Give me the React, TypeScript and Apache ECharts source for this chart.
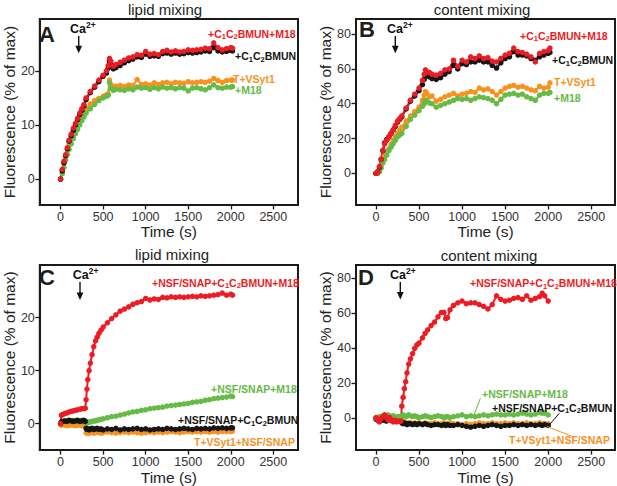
import React, { useEffect, useRef } from "react";
import * as echarts from "echarts";

const FONT = "'Liberation Sans', Arial, Helvetica, sans-serif";
const RED = "#ec1c24";
const BLACK = "#151515";
const ORANGE = "#f7921e";
const GREEN = "#66ba46";

// ---------- tick labels ----------
const timeTicks = [0, 500, 1000, 1500, 2000, 2500];
const lipidTicks = [0, 10, 20];
const contentTicks = [0, 20, 40, 60, 80];

// ---------- Panel A / B times (s) ----------
const timesAB = [0, 20, 40, 60, 80, 100, 125, 150, 175, 200, 225, 250, 275, 300, 350, 400, 450, 500, 540, 560, 575, 590, 620, 650,
  700, 750, 800, 850, 900, 950, 1000, 1050, 1100, 1150, 1200, 1250, 1300, 1350, 1400, 1450, 1500, 1550, 1600, 1650, 1700, 1750, 1800, 1850, 1900, 1950, 2000, 2020];

// Panel A: lipid mixing
const redA = [0, 1.8, 3.3, 4.5, 5.8, 7.2, 8.3, 9.4, 10.3, 11.2, 12.2, 13.0, 13.8, 15.0, 16.2, 17.2, 18.3, 19.2, 20.0, 21.0, 22.3, 21.8, 20.9, 21.2,
  21.6, 22.0, 22.4, 22.6, 23.0, 22.9, 23.6, 23.1, 23.2, 23.0, 23.6, 23.8, 23.5, 23.7, 23.5, 23.6, 23.9, 23.8, 23.9, 24.0, 24.2, 24.1, 25.2, 24.3, 23.9, 24.1, 24.3, 24.2];
const blackA = [0, 1.5, 3.0, 4.3, 5.6, 7.0, 8.0, 9.0, 10.0, 11.0, 11.9, 12.7, 13.5, 14.7, 16.0, 17.0, 18.0, 19.0, 19.6, 20.5, 21.8, 21.2, 20.4, 20.6,
  21.0, 21.5, 21.9, 22.2, 22.6, 22.5, 23.1, 22.7, 22.8, 22.7, 23.2, 23.3, 23.1, 23.3, 23.1, 23.2, 23.4, 23.3, 23.4, 23.5, 23.7, 23.6, 24.3, 23.7, 23.5, 23.6, 23.8, 23.7];
const orangeA = [0, 1.5, 3.0, 4.2, 5.4, 6.5, 7.6, 8.6, 9.5, 10.3, 11.0, 11.8, 12.5, 13.0, 13.9, 14.5, 14.9, 15.3, 15.6, 15.8, 18.3, 17.5, 17.0, 17.2,
  17.3, 17.1, 17.4, 17.3, 18.4, 17.5, 17.6, 17.4, 17.8, 17.5, 17.8, 17.9, 17.6, 17.9, 17.8, 17.7, 18.0, 17.8, 17.9, 18.0, 17.9, 18.1, 18.6, 18.2, 17.9, 18.2, 18.3, 18.3];
const greenA = [0, 1.0, 2.2, 3.5, 4.6, 5.5, 6.5, 7.5, 8.4, 9.2, 10.0, 10.8, 11.5, 12.2, 13.0, 13.8, 14.5, 15.0, 15.3, 15.5, 17.8, 16.8, 16.4, 16.6,
  16.5, 16.4, 16.7, 16.5, 17.0, 16.8, 16.9, 16.6, 16.9, 16.7, 17.0, 16.8, 16.9, 16.7, 16.9, 16.8, 16.3, 16.8, 16.9, 16.7, 16.5, 16.9, 17.4, 16.9, 16.8, 17.0, 17.0, 17.1];

// Panel B: content mixing
const redB = [0, 1, 4, 8, 13, 17, 19, 21, 23, 25, 27.5, 30, 31.5, 33, 37.5, 42, 45.5, 49, 53.5, 57, 59.5, 58.5, 58, 57,
  56.5, 57.5, 59.5, 60, 65, 61.5, 65, 64, 67, 66, 67.5, 66, 66.5, 64.5, 64, 66, 68, 69, 72, 70, 69.5, 68.5, 67, 64, 69, 70, 70.5, 72];
const blackB = [0, 1, 3.5, 8, 13, 17.5, 19.5, 21, 23, 25, 27, 29.5, 31, 32.5, 37, 41.5, 44.5, 47.5, 51, 54, 57, 56, 55.5, 54.5,
  54, 55, 57, 58.5, 62, 60, 63, 62.5, 64, 64, 65, 64, 64, 62, 60.5, 63.5, 66, 67, 70, 68, 68, 67.5, 66, 65, 67, 68, 69, 69.5];
const orangeB = [0, 0, 1, 4, 7, 10, 12, 14, 16.5, 19, 21, 23, 25, 26.5, 30, 33, 35.5, 38, 42, 45, 47, 46, 44, 44.5,
  41.5, 42.5, 44, 45, 46, 44.5, 45.5, 46, 47, 46.5, 49, 48, 48.5, 47, 45, 47, 49, 50, 50.5, 49.5, 50, 49, 48, 47.5, 50, 49, 49.5, 52];
const greenB = [0, 0, 1, 3, 6, 8, 10.5, 13, 15, 17, 19, 21, 22, 23, 27, 31, 33.5, 36, 38.5, 40, 42, 41.5, 40.5, 40,
  38, 39, 40, 41, 42, 43, 42.5, 43, 42, 43, 44, 43.5, 43, 42, 40, 42.5, 45, 45.5, 46, 45, 45.5, 44, 43, 42, 45, 46, 46, 46.5];

// ---------- Panel C: lipid mixing with NSF/SNAP ----------
const timesC = [0, 10, 25, 50, 75, 100, 125, 150, 175, 200, 225, 250, 275, 290,
  300, 310, 320, 335, 350, 370, 390, 410, 430, 450, 475, 500,
  550, 600, 650, 700, 750, 800, 850, 900, 950, 1000, 1050, 1100, 1150, 1200, 1250, 1300, 1350, 1400, 1450, 1500,
  1550, 1600, 1650, 1700, 1750, 1800, 1850, 1900, 1950, 2000, 2020];
const redC = [0, 1.6, 1.7, 1.9, 2.0, 2.2, 2.3, 2.4, 2.5, 2.6, 2.7, 2.8, 2.8, 2.9,
  4.5, 6.5, 8.3, 10.0, 11.4, 13.0, 14.5, 15.6, 16.3, 17.0, 17.6, 18.2,
  19.0, 19.8, 20.5, 21.2, 21.6, 22.0, 22.5, 22.8, 23.0, 23.6, 23.3, 23.5, 23.4, 23.8, 23.7, 23.9, 23.8, 23.9, 23.8, 23.9,
  24.0, 23.9, 24.1, 24.0, 24.1, 24.2, 24.3, 24.6, 24.2, 24.4, 24.2];
const greenC = [0, 0.2, 0.3, 0.5, 0.5, 0.6, 0.5, 0.6, 0.5, 0.6, 0.5, 0.6, 0.5, 0.5,
  0.0, 0.1, 0.2, 0.3, 0.3, 0.4, 0.5, 0.5, 0.6, 0.7, 0.8, 0.9,
  1.1, 1.3, 1.4, 1.6, 1.8, 2.0, 2.2, 2.3, 2.5, 2.6, 2.8, 2.9, 3.0, 3.1, 3.3, 3.4, 3.5, 3.6, 3.7, 3.8,
  4.0, 4.1, 4.2, 4.4, 4.5, 4.7, 4.8, 4.9, 5.0, 5.2, 5.1];
const blackC = [0, 0.3, 0.4, 0.5, 0.4, 0.6, 0.5, 0.4, 0.5, 0.6, 0.4, 0.5, 0.6, 0.4,
  -0.9, -1.1, -1.0, -1.2, -1.0, -0.9, -1.1, -1.0, -0.9, -1.1, -1.0, -1.2,
  -1.0, -1.1, -0.9, -1.2, -1.0, -1.1, -1.0, -0.9, -1.1, -1.0, -1.2, -1.1, -1.0, -1.1, -0.9, -1.0, -1.1, -1.0, -0.9, -1.0,
  -1.1, -0.9, -1.0, -0.9, -1.0, -0.8, -0.9, -0.8, -0.9, -0.8, -0.8];
const orangeC = [0, -0.3, -0.2, -0.3, -0.4, -0.3, -0.2, -0.3, -0.4, -0.3, -0.2, -0.4, -0.3, -0.4,
  -1.7, -1.8, -1.7, -1.8, -1.7, -1.6, -1.8, -1.7, -1.6, -1.7, -1.8, -1.7,
  -1.6, -1.7, -1.8, -1.7, -1.6, -1.7, -1.6, -1.7, -1.8, -1.7, -1.6, -1.7, -1.6, -1.7, -1.6, -1.5, -1.6, -1.7, -1.6, -1.5,
  -1.6, -1.5, -1.6, -1.5, -1.6, -1.5, -1.6, -1.5, -1.5, -1.5, -1.4];

// ---------- Panel D: content mixing with NSF/SNAP ----------
const timesD = [0, 20, 40, 60, 80, 100, 120, 140, 160, 180, 200, 220, 240, 260, 280, 290,
  300, 315, 330, 345, 360, 380, 400, 425, 450, 475, 500,
  540, 570, 600, 640, 680, 720, 760, 790, 810, 830, 860, 900,
  950, 1000, 1050, 1100, 1150, 1200, 1250, 1300, 1350, 1400, 1450, 1500, 1550, 1600, 1650, 1700, 1750, 1800, 1850, 1900,
  1930, 1960, 2000];
const redD = [0.5, -1, -2, 0, 1, 2, 1, -1, 0.5, -1, -2, -1, -2, -1.5, -1.5, -1.5,
  7, 12, 17, 21, 26, 31, 34, 37, 40, 42, 43,
  46, 48.5, 50.5, 53, 55, 58, 60.5, 60.5, 57, 57.5, 62, 64.5,
  66, 67, 65.5, 66, 66, 65, 64, 62.5, 65, 70, 68, 67, 67.5, 68.5, 69, 68, 70, 67.5, 68.5, 69.5,
  71.5, 70, 67];
const greenD = [0, 0.5, 1, 1, 1.5, 1, 1.5, 2, 1.5, 1, 1.5, 1, 0.5, 1, 1, 1,
  1.5, 2, 1.5, 1, 1.5, 2, 1.5, 1, 1.5, 1, 0.5,
  1, 1.5, 1, 0.5, 1, 1.5, 1, 0.5, 0.8, 1, 0.5, 1,
  1.5, 2, 1, 1.5, 1, 1.5, 2, 1.5, 2, 2.5, 2, 2, 2.5, 2, 2.5, 3, 2.5, 2, 2.5, 3.5,
  3, 3, 2];
const blackD = [-0.5, -1, -0.5, -1, -1, -0.5, -1.5, -1, -0.5, -1, -1.5, -1, -0.5, -1, -1, -1.5,
  -2.5, -3, -2.5, -3, -3.5, -3, -3, -3.5, -3, -3.5, -3,
  -3.5, -3, -3.5, -4, -3.5, -3.5, -4, -3.5, -4, -3.5, -4, -4,
  -3.5, -4, -4.5, -5, -4.5, -4, -4.5, -4, -3.5, -4, -4.5, -4, -4, -3.5, -4, -3.5, -4, -3.5, -4, -3.5,
  -4, -3.5, -4];
const orangeD = [0, -0.5, 0, 0.5, 0, -0.5, 0, 0.5, 0, -0.5, 0, 0.5, 0, -0.5, 0, -0.5,
  -2, -2.5, -2, -2.5, -3, -2.5, -2.5, -3, -2.5, -3, -2.5,
  -3, -2.5, -3, -3, -2.5, -3, -3, -2.5, -3, -3, -2.5, -3,
  -3, -3.5, -3, -3.5, -3, -2.5, -3, -3, -2.5, -3, -3, -2.5, -3, -2.5, -3, -3, -2.5, -3, -3, -2.5,
  -3, -3, -3];

const pairs = (t: number[], v: number[]) => t.map((x, i) => [x, v[i]]);

type Panel = {
  grid: { left: number; top: number; width: number; height: number };
  xMin: number; xMax: number; yMin: number; yMax: number;
  yTicks: number[];
  series: { color: string; data: number[][] }[];
};

const panels: Panel[] = [
  {
    grid: { left: 37, top: 19, width: 261, height: 186 },
    xMin: -244, xMax: 2790, yMin: -4.8, yMax: 29.6, yTicks: lipidTicks,
    series: [
      { color: ORANGE, data: pairs(timesAB, orangeA) },
      { color: GREEN, data: pairs(timesAB, greenA) },
      { color: BLACK, data: pairs(timesAB, blackA) },
      { color: RED, data: pairs(timesAB, redA) },
    ],
  },
  {
    grid: { left: 356, top: 19, width: 259, height: 186 },
    xMin: -232, xMax: 2776, yMin: -18.2, yMax: 88.7, yTicks: contentTicks,
    series: [
      { color: ORANGE, data: pairs(timesAB, orangeB) },
      { color: GREEN, data: pairs(timesAB, greenB) },
      { color: BLACK, data: pairs(timesAB, blackB) },
      { color: RED, data: pairs(timesAB, redB) },
    ],
  },
  {
    grid: { left: 37, top: 265, width: 261, height: 186 },
    xMin: -244, xMax: 2790, yMin: -5.0, yMax: 29.9, yTicks: lipidTicks,
    series: [
      { color: ORANGE, data: pairs(timesC, orangeC) },
      { color: GREEN, data: pairs(timesC, greenC) },
      { color: BLACK, data: pairs(timesC, blackC) },
      { color: RED, data: pairs(timesC, redC) },
    ],
  },
  {
    grid: { left: 356, top: 265, width: 259, height: 186 },
    xMin: -232, xMax: 2776, yMin: -18.1, yMax: 87.6, yTicks: contentTicks,
    series: [
      { color: ORANGE, data: pairs(timesD, orangeD) },
      { color: BLACK, data: pairs(timesD, blackD) },
      { color: GREEN, data: pairs(timesD, greenD) },
      { color: RED, data: pairs(timesD, redD) },
    ],
  },
];

const richFor = (fill: string, size: number) => ({
  s: { fontSize: size, fontWeight: "bold", fill, fontFamily: FONT, padding: [6, 0, 0, 0] },
  p: { fontSize: size, fontWeight: "bold", fill, fontFamily: FONT, padding: [0, 0, 8, 0] },
});

const lbl = (x: number, y: number, text: string, fill: string) => ({
  type: "text", x, y, z: 20,
  style: { text, fill, fontSize: 10.5, fontWeight: "bold", fontFamily: FONT, align: "left", verticalAlign: "middle", rich: richFor(fill, 7.5) },
});

const plain = (x: number, y: number, text: string, size: number, bold = false, align = "center") => ({
  type: "text", x, y, z: 20,
  style: { text, fill: "#1e1e1e", fontSize: size, fontWeight: bold ? "bold" : "normal", fontFamily: FONT, align, verticalAlign: "middle" },
});

const caLabel = (x: number, y: number) => ({
  type: "text", x, y, z: 20,
  style: { text: "Ca{p|2+}", fill: "#111", fontSize: 12.5, fontWeight: "bold", fontFamily: FONT, align: "left", verticalAlign: "middle", rich: richFor("#111", 8.5) },
});

const arrow = (x: number, y1: number, y2: number) => [
  { type: "line", z: 20, shape: { x1: x, y1, x2: x, y2: y2 - 5 }, style: { stroke: "#111", lineWidth: 1.4 } },
  { type: "polygon", z: 20, shape: { points: [[x - 3.4, y2 - 7.5], [x + 3.4, y2 - 7.5], [x, y2]] }, style: { fill: "#111" } },
];

const leader = (x1: number, y1: number, x2: number, y2: number, stroke: string) => ({
  type: "line", z: 20, shape: { x1, y1, x2, y2 }, style: { stroke, lineWidth: 1 },
});

const fmt = (v: number) => String(v);

export default function App() {
  const ref = useRef<HTMLDivElement>(null);
  useEffect(() => {
    if (!ref.current) return;
    const chart = echarts.init(ref.current, undefined, { renderer: "svg" });

    const grid = panels.map((p) => ({
      ...p.grid, show: true, borderColor: "#1a1a1a", borderWidth: 2, backgroundColor: "transparent", containLabel: false,
    }));
    const xAxis = panels.map((p, i) => ({
      type: "value", gridIndex: i, min: p.xMin, max: p.xMax,
      axisLine: { show: true, onZero: false, lineStyle: { color: "#1a1a1a", width: 2 } },
      axisTick: { show: true, customValues: timeTicks, length: 4.5, lineStyle: { color: "#1a1a1a", width: 1.3 } },
      axisLabel: { customValues: timeTicks, formatter: fmt, fontSize: 12.5, color: "#333", margin: 5, fontFamily: FONT },
      splitLine: { show: false },
      name: "Time (s)", nameLocation: "middle", nameGap: 15,
      nameTextStyle: { fontSize: 15.5, color: "#222", fontFamily: FONT },
    }));
    const yAxis = panels.map((p, i) => ({
      type: "value", gridIndex: i, min: p.yMin, max: p.yMax,
      axisLine: { show: true, onZero: false, lineStyle: { color: "#1a1a1a", width: 2 } },
      axisTick: { show: true, customValues: p.yTicks, length: 4.5, lineStyle: { color: "#1a1a1a", width: 1.3 } },
      axisLabel: { customValues: p.yTicks, formatter: fmt, fontSize: 12.5, color: "#333", margin: 5, fontFamily: FONT },
      splitLine: { show: false },
      name: "Fluorescence (% of max)", nameLocation: "middle", nameGap: 19,
      nameTextStyle: { fontSize: 15.5, color: "#222", fontFamily: FONT },
    }));
    const series: any[] = [];
    panels.forEach((p, i) => {
      p.series.forEach((s) => {
        series.push({
          type: "line", xAxisIndex: i, yAxisIndex: i, data: s.data,
          symbol: "circle", symbolSize: 5.5, showSymbol: true,
          itemStyle: { color: s.color }, lineStyle: { color: s.color, width: 2 },
          clip: true,
        });
      });
    });

    const graphic: any[] = [
      // titles
      plain(165, 9, "lipid mixing", 15),
      plain(482, 9.5, "content mixing", 15),
      plain(172, 254.5, "lipid mixing", 15),
      plain(489, 255.5, "content mixing", 15),
      // panel letters
      plain(39, 34, "A", 22, true, "left"),
      plain(359, 29.5, "B", 22, true, "left"),
      plain(39, 277, "C", 22, true, "left"),
      plain(358, 277, "D", 22, true, "left"),
      // Ca2+ markers
      caLabel(70, 28.5), ...arrow(78.7, 36, 53.3),
      caLabel(387, 28.5), ...arrow(395.3, 36, 53.3),
      caLabel(72.7, 275), ...arrow(80, 282, 300),
      caLabel(390, 275), ...arrow(400.3, 282, 299.5),
      // A labels
      lbl(208, 33.5, "+C{s|1}C{s|2}BMUN+M18", RED),
      lbl(235, 56, "+C{s|1}C{s|2}BMUN", BLACK),
      lbl(233, 79, "T+VSyt1", ORANGE),
      lbl(235, 89.5, "+M18", GREEN),
      // B labels
      lbl(520, 35.7, "+C{s|1}C{s|2}BMUN+M18", RED),
      lbl(552, 60, "+C{s|1}C{s|2}BMUN", BLACK),
      lbl(554, 81.7, "T+VSyt1", ORANGE),
      lbl(554, 98.3, "+M18", GREEN),
      // C labels
      lbl(152, 282.7, "+NSF/SNAP+C{s|1}C{s|2}BMUN+M18", RED),
      lbl(211, 389, "+NSF/SNAP+M18", GREEN),
      lbl(178, 420, "+NSF/SNAP+C{s|1}C{s|2}BMUN", BLACK),
      lbl(194, 441.7, "T+VSyt1+NSF/SNAP", ORANGE),
      // D labels
      lbl(470, 283.3, "+NSF/SNAP+C{s|1}C{s|2}BMUN+M18", RED),
      lbl(482, 393.5, "+NSF/SNAP+M18", GREEN),
      lbl(492, 407.7, "+NSF/SNAP+C{s|1}C{s|2}BMUN", BLACK),
      lbl(509, 440, "T+VSyt1+NSF/SNAP", ORANGE),
      leader(480.3, 398.5, 473.7, 415.7, GREEN),
      leader(559.3, 413.3, 549.3, 425, BLACK),
      leader(547, 426.5, 573.7, 437, ORANGE),
    ];

    chart.setOption({
      animation: false,
      textStyle: { fontFamily: FONT },
      grid, xAxis, yAxis, series, graphic,
    });
    return () => chart.dispose();
  }, []);
  return (
    <div
      ref={ref}
      style={{ position: "absolute", left: 0, top: 0, width: 617, height: 486, background: "#fff" }}
    />
  );
}
